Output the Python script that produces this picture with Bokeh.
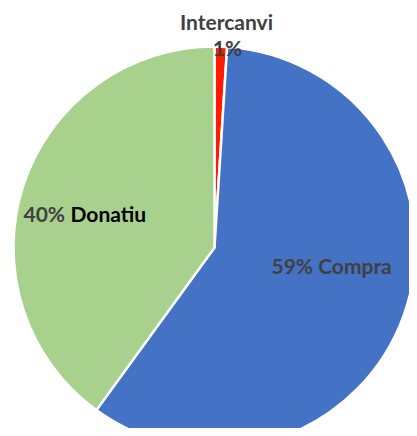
import math
from bokeh.plotting import figure
from bokeh.models import Range1d, ColumnDataSource
from bokeh.core.properties import value
from bokeh.embed import file_html
from bokeh.resources import INLINE

categories = ["Intercanvi", "Compra", "Donatiu"]
shares = [1, 59, 40]
colors = ["#FF1A00", "#4472C4", "#A9D18E"]

W, H = 409, 428
p = figure(width=W, height=H, output_backend="svg", toolbar_location=None,
           x_range=Range1d(0, W), y_range=Range1d(-H, 0),
           min_border=0, outline_line_color=None)
p.axis.visible = False
p.grid.visible = False
p.background_fill_color = "white"
p.border_fill_color = "white"

cx, cy, r = 214, -247, 201
total = sum(shares)
starts, ends = [], []
cum = 0
for s in shares:
    starts.append(math.pi / 2 - 2 * math.pi * cum / total)
    cum += s
    ends.append(math.pi / 2 - 2 * math.pi * cum / total)

src = ColumnDataSource(dict(x=[cx] * 3, y=[cy] * 3, start=starts, end=ends, color=colors))
p.wedge(x="x", y="y", radius=r, start_angle="start", end_angle="end", direction="clock",
        fill_color="color", line_color="white", line_width=2.5, source=src)

font = value("Lato")
fs = "21px"
gray = "#404040"
p.text(x=[226], y=[-21], text=[categories[0]], text_font=font, text_font_style="bold",
       text_font_size=fs, text_color=gray, text_align="center", text_baseline="middle")
p.text(x=[227], y=[-47], text=[f"{shares[0]}%"], text_font=font, text_font_style="bold",
       text_font_size=fs, text_color=gray, text_align="center", text_baseline="middle")
p.text(x=[23], y=[-213], text=[f"{shares[2]}%"], text_font=font, text_font_style="bold",
       text_font_size=fs, text_color=gray, text_align="left", text_baseline="middle")
p.text(x=[70], y=[-213], text=[categories[2]], text_font=font, text_font_style="bold",
       text_font_size=fs, text_color="black", text_align="left", text_baseline="middle")
p.text(x=[271], y=[-265], text=[f"{shares[1]}% {categories[1]}"], text_font=font, text_font_style="bold",
       text_font_size=fs, text_color=gray, text_align="left", text_baseline="middle")

open("out.html", "w").write(file_html(p, INLINE))
